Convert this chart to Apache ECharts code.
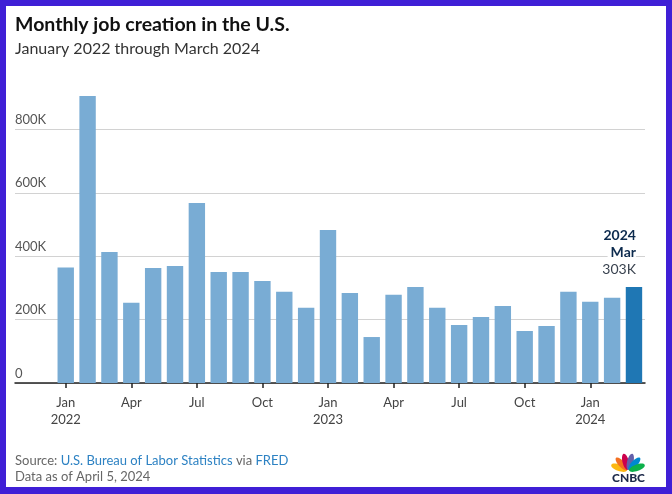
<!DOCTYPE html>
<html><head><meta charset="utf-8">
<script src="https://cdn.jsdelivr.net/npm/echarts@6/dist/echarts.min.js"></script>
<style>
html,body{margin:0;padding:0;width:672px;height:494px;background:#3f1fd6;overflow:hidden}
#c{position:absolute;left:6px;top:6px;width:660px;height:481px;background:#fff}
</style></head><body><div id="c"></div>
<script>
// Data (thousands of jobs)
const months = ['Jan 2022','Feb 2022','Mar 2022','Apr 2022','May 2022','Jun 2022','Jul 2022','Aug 2022','Sep 2022','Oct 2022','Nov 2022','Dec 2022',
  'Jan 2023','Feb 2023','Mar 2023','Apr 2023','May 2023','Jun 2023','Jul 2023','Aug 2023','Sep 2023','Oct 2023','Nov 2023','Dec 2023',
  'Jan 2024','Feb 2024','Mar 2024'];
const jobs = [364,905,413,253,363,369,568,350,350,322,288,237,
  483,284,145,278,303,237,183,208,243,164,180,288,
  256,269,303];
const yTicks = [0,200,400,600,800];
const titleText = 'Monthly job creation in the U.S.';
const subtitleText = 'January 2022 through March 2024';

const FONT = 'Lato, "Open Sans", sans-serif';
const chart = echarts.init(document.getElementById('c'));
const lastIdx = jobs.length - 1;
const fmtK = v => v === 0 ? '0' : v + 'K';

const feathers = ['#fcb711','#f37021','#cc004c','#6460aa','#0089d0','#0db14b'];
const featherAngles = [-70,-42,-14,14,42,70];

chart.setOption({
  animation: false,
  textStyle: {fontFamily: FONT},
  grid: [
    {left: 9, right: 21, top: 60, bottom: 104},
    {left: 48.8, right: 21.1, top: 60, bottom: 104}
  ],
  xAxis: [
    {gridIndex: 0, type: 'value', min: 0, max: 1,
     axisLine: {show: true, lineStyle: {color: '#222', width: 1.5}},
     axisTick: {show: false}, axisLabel: {show: false}, splitLine: {show: false}},
    {gridIndex: 1, type: 'category', data: months,
     axisLine: {show: false},
     axisTick: {show: true, interval: 2, alignWithLabel: true, length: 5, lineStyle: {color: '#222', width: 1.5}},
     axisLabel: {interval: 2, margin: 11, color: '#444', fontSize: 13, lineHeight: 17, fontFamily: FONT,
       formatter: v => { const p = v.split(' '); return p[0] === 'Jan' ? p[0] + '\n' + p[1] : p[0]; }}}
  ],
  yAxis: [
    {gridIndex: 0, type: 'value', min: yTicks[0], max: 1000, interval: yTicks[1] - yTicks[0],
     axisLine: {show: false}, axisTick: {show: false},
     splitLine: {show: true, showMaxLine: false, lineStyle: {color: '#d2d2d2', width: 1}},
     axisLabel: {inside: true, showMaxLabel: false, margin: 0, verticalAlign: 'bottom', padding: [0,0,3,0],
       color: '#555', fontSize: 13, fontFamily: FONT, formatter: fmtK}},
    {gridIndex: 1, type: 'value', min: 0, max: 1000, show: false}
  ],
  series: [{
    type: 'bar', xAxisIndex: 1, yAxisIndex: 1, barWidth: '75%',
    itemStyle: {color: '#79acd4'},
    data: jobs.map((v, i) => i === lastIdx ? {
      value: v, itemStyle: {color: '#1f77b4'},
      label: {show: true, position: 'top', distance: 9, align: 'right', offset: [2, 0],
        formatter: p => { const s = p.name.split(' '); return '{a|' + s[1] + '}\n{b|' + s[0] + '}\n{c|' + fmtK(p.value) + '}'; },
        rich: {
          a: {fontWeight: 'bold', fontSize: 14, color: '#0d2b4e', lineHeight: 17, align: 'right', fontFamily: FONT},
          b: {fontWeight: 'bold', fontSize: 14, color: '#0d2b4e', lineHeight: 17, align: 'right', backgroundColor: '#fff', padding: [0,0,0,3], fontFamily: FONT},
          c: {fontSize: 14, color: '#3a4350', lineHeight: 17, align: 'right', fontFamily: FONT}
        }}
    } : v)
  }],
  graphic: [
    {type: 'text', x: 9, y: 19, style: {text: titleText, font: 'bold 19.5px ' + FONT, fill: '#111', verticalAlign: 'middle'}},
    {type: 'text', x: 9, y: 43, style: {text: subtitleText, font: '16px ' + FONT, fill: '#333', verticalAlign: 'middle'}},
    {type: 'text', x: 9, y: 455, style: {
      text: '{g|Source: }{l|U.S. Bureau of Labor Statistics}{g| via }{l|FRED}',
      verticalAlign: 'middle',
      rich: {g: {fill: '#666', font: '13px ' + FONT}, l: {fill: '#2d82c3', font: '13px ' + FONT}}}},
    {type: 'text', x: 9, y: 471, style: {text: 'Data as of April 5, 2024', font: '13px ' + FONT, fill: '#666', verticalAlign: 'middle'}},
    {type: 'group', x: 622, y: 465, children: feathers.map((c, i) => ({
      type: 'ellipse', rotation: -featherAngles[i] * Math.PI / 180,
      shape: {cx: 0, cy: -9.5, rx: 3.2, ry: 8.3}, style: {fill: c}
    }))},
    {type: 'text', x: 622.5, y: 472.5, style: {text: 'CNBC', font: '900 12px ' + FONT, fill: '#1d2a4a', align: 'center', verticalAlign: 'middle'}}
  ]
});
</script></body></html>
